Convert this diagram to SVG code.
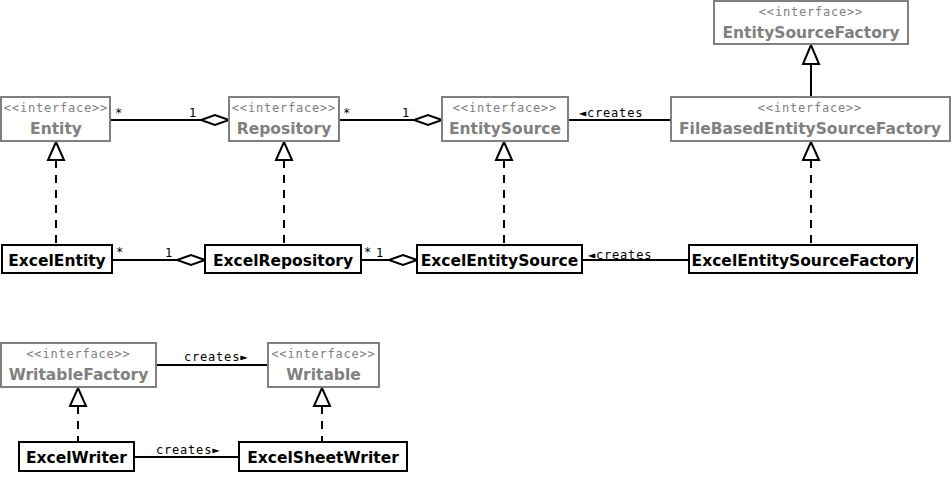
<svg xmlns="http://www.w3.org/2000/svg" width="952" height="489" viewBox="0 0 952 489">
<style>
.ib{fill:#fff;stroke:#808080;stroke-width:2}
.cb{fill:#fff;stroke:#000;stroke-width:2}
.st{font-family:"DejaVu Sans Mono",monospace;font-size:12px;letter-spacing:0.8px;fill:#808080;text-anchor:middle}
.in{font-family:"DejaVu Sans",sans-serif;font-weight:bold;font-size:15.5px;fill:#808080;text-anchor:middle}
.cn{font-family:"DejaVu Sans",sans-serif;font-weight:bold;font-size:15.5px;fill:#000;text-anchor:middle}
.lb{font-family:"DejaVu Sans Mono",monospace;font-size:12px;letter-spacing:0.8px;fill:#000}
.ln{stroke:#000;stroke-width:2;fill:none}
.dl{stroke:#000;stroke-width:2;fill:none;stroke-dasharray:8,7}
.dm{fill:#fff;stroke:#000;stroke-width:2}
.tr{fill:#fff;stroke:#000;stroke-width:2}
</style>
<g id="connectors">
  <!-- Entity - Repository -->
  <line class="ln" x1="110" y1="120" x2="201" y2="120"/>
  <polygon class="dm" points="229,120 215,115 201,120 215,125"/>
  <text class="lb" x="115" y="117">*</text>
  <text class="lb" x="189" y="117">1</text>
  <!-- Repository - EntitySource -->
  <line class="ln" x1="339" y1="120" x2="414" y2="120"/>
  <polygon class="dm" points="442,120 428,115 414,120 428,125"/>
  <text class="lb" x="343" y="117">*</text>
  <text class="lb" x="402" y="117">1</text>
  <!-- EntitySource - FileBased -->
  <line class="ln" x1="568" y1="120" x2="671" y2="120"/>
  <text class="lb" x="579" y="117">◄creates</text>
  <!-- FileBased -> EntitySourceFactory -->
  <line class="ln" x1="811" y1="97" x2="811" y2="64"/>
  <polygon class="tr" points="811,45 803,64 819,64"/>
  <!-- realizations -->
  <line class="dl" x1="56" y1="160" x2="56" y2="245"/>
  <polygon class="tr" points="56,142 48,160 64,160"/>
  <line class="dl" x1="284" y1="160" x2="284" y2="245"/>
  <polygon class="tr" points="284,142 276,160 292,160"/>
  <line class="dl" x1="504" y1="160" x2="504" y2="245"/>
  <polygon class="tr" points="504,142 496,160 512,160"/>
  <line class="dl" x1="811" y1="160" x2="811" y2="245"/>
  <polygon class="tr" points="811,142 803,160 819,160"/>
  <!-- ExcelEntity - ExcelRepository -->
  <line class="ln" x1="112" y1="260" x2="177" y2="260"/>
  <polygon class="dm" points="205,260 191,255 177,260 191,265"/>
  <text class="lb" x="116" y="256">*</text>
  <text class="lb" x="165" y="257">1</text>
  <!-- ExcelRepository - ExcelEntitySource -->
  <line class="ln" x1="361" y1="260" x2="389" y2="260"/>
  <polygon class="dm" points="417,260 403,255 389,260 403,265"/>
  <text class="lb" x="364" y="256">*</text>
  <text class="lb" x="376" y="257">1</text>
  <!-- ExcelEntitySource - ExcelEntitySourceFactory -->
  <line class="ln" x1="582" y1="260" x2="689" y2="260"/>
  <text class="lb" x="588" y="259">◄creates</text>
  <!-- WritableFactory - Writable -->
  <line class="ln" x1="156" y1="365" x2="268" y2="365"/>
  <text class="lb" x="184" y="361">creates►</text>
  <line class="dl" x1="78" y1="406" x2="78" y2="442"/>
  <polygon class="tr" points="78,388 70,406 86,406"/>
  <line class="dl" x1="322" y1="406" x2="322" y2="442"/>
  <polygon class="tr" points="322,388 314,406 330,406"/>
  <!-- ExcelWriter - ExcelSheetWriter -->
  <line class="ln" x1="134" y1="457" x2="239" y2="457"/>
  <text class="lb" x="156" y="454">creates►</text>
</g>
<g id="Entity"><rect class="ib" x="1" y="97" width="109" height="44"/><text class="st" x="56" y="112">&lt;&lt;interface&gt;&gt;</text><text class="in" x="56" y="134">Entity</text></g>
<g id="Repository"><rect class="ib" x="229" y="97" width="110" height="44"/><text class="st" x="284" y="112">&lt;&lt;interface&gt;&gt;</text><text class="in" x="284" y="134">Repository</text></g>
<g id="EntitySource"><rect class="ib" x="442" y="97" width="126" height="44"/><text class="st" x="505" y="112">&lt;&lt;interface&gt;&gt;</text><text class="in" x="505" y="134">EntitySource</text></g>
<g id="EntitySourceFactory"><rect class="ib" x="714" y="1" width="194" height="43"/><text class="st" x="811" y="16">&lt;&lt;interface&gt;&gt;</text><text class="in" x="811" y="38">EntitySourceFactory</text></g>
<g id="FileBasedEntitySourceFactory"><rect class="ib" x="671" y="97" width="279" height="44"/><text class="st" x="810" y="112">&lt;&lt;interface&gt;&gt;</text><text class="in" x="810" y="134">FileBasedEntitySourceFactory</text></g>
<g id="ExcelEntity"><rect class="cb" x="2" y="245" width="110" height="28"/><text class="cn" x="57" y="266">ExcelEntity</text></g>
<g id="ExcelRepository"><rect class="cb" x="205" y="245" width="156" height="28"/><text class="cn" x="283" y="266">ExcelRepository</text></g>
<g id="ExcelEntitySource"><rect class="cb" x="417" y="245" width="165" height="28"/><text class="cn" x="499.5" y="266">ExcelEntitySource</text></g>
<g id="ExcelEntitySourceFactory"><rect class="cb" x="689" y="245" width="228" height="28"/><text class="cn" x="803" y="266">ExcelEntitySourceFactory</text></g>
<g id="WritableFactory"><rect class="ib" x="1" y="343" width="155" height="44"/><text class="st" x="78.5" y="358">&lt;&lt;interface&gt;&gt;</text><text class="in" x="78.5" y="380">WritableFactory</text></g>
<g id="Writable"><rect class="ib" x="268" y="343" width="111" height="44"/><text class="st" x="323.5" y="358">&lt;&lt;interface&gt;&gt;</text><text class="in" x="323.5" y="380">Writable</text></g>
<g id="ExcelWriter"><rect class="cb" x="19" y="442" width="115" height="29"/><text class="cn" x="76.5" y="463">ExcelWriter</text></g>
<g id="ExcelSheetWriter"><rect class="cb" x="239" y="442" width="168" height="29"/><text class="cn" x="323" y="463">ExcelSheetWriter</text></g>
</svg>
